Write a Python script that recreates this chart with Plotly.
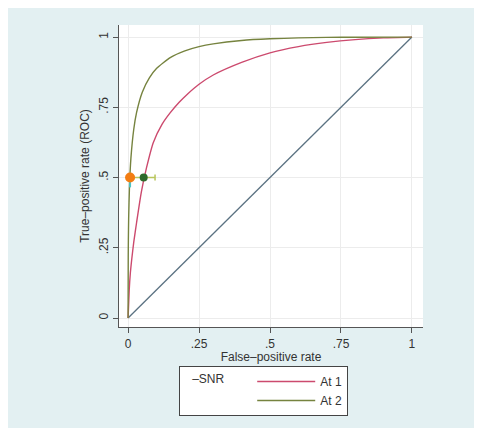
import plotly.graph_objects as go

# ROC curve At 1 (red)
fpr_at1 = [0, 0.004, 0.008, 0.013, 0.02, 0.03, 0.047, 0.065, 0.089, 0.12, 0.148, 0.18, 0.207,
           0.25, 0.3, 0.4, 0.5, 0.6, 0.7, 0.8, 0.9, 1]
tpr_at1 = [0, 0.10, 0.16, 0.21, 0.27, 0.34, 0.45, 0.535, 0.625, 0.69, 0.73, 0.768, 0.795,
           0.832, 0.865, 0.91, 0.944, 0.966, 0.981, 0.991, 0.997, 1]
# ROC curve At 2 (olive)
fpr_at2 = [0, 0.0005, 0.001, 0.002, 0.005, 0.01, 0.02, 0.03, 0.05, 0.075, 0.1, 0.15, 0.2,
           0.25, 0.3, 0.4, 0.5, 0.6, 0.7, 0.8, 1]
tpr_at2 = [0, 0.215, 0.278, 0.353, 0.47, 0.569, 0.672, 0.732, 0.804, 0.855, 0.888, 0.928, 0.951,
           0.966, 0.976, 0.988, 0.9938, 0.997, 0.9988, 0.9996, 1]
# chance line
diag_x = [0, 1]
diag_y = [0, 1]
# operating points
pt_orange = (0.007, 0.5)
pt_green = (0.055, 0.5)
green_err = 0.04
orange_err_down = 0.035

tick_vals = [0, 0.25, 0.5, 0.75, 1]
tick_text = ["0", ".25", ".5", ".75", "1"]

BG = "#e3f0f2"
AX = "#555555"
FONT = "Liberation Sans, Arial, sans-serif"
NB = "\u00a0"

fig = go.Figure()
fig.add_trace(go.Scatter(x=diag_x, y=diag_y, mode="lines",
                         line=dict(color="#5b7282", width=1.3), showlegend=False))
fig.add_trace(go.Scatter(x=fpr_at1, y=tpr_at1, mode="lines", name="At 1",
                         line=dict(color="#cc4a6e", width=1.4, shape="spline", smoothing=0.6)))
fig.add_trace(go.Scatter(x=fpr_at2, y=tpr_at2, mode="lines", name="At 2",
                         line=dict(color="#76833f", width=1.4, shape="spline", smoothing=0.6)))
fig.add_trace(go.Scatter(x=[pt_green[0]], y=[pt_green[1]], mode="markers", showlegend=False,
                         marker=dict(color="#2f6a2c", size=8),
                         error_x=dict(type="data", array=[green_err], color="#b9c65c",
                                      thickness=1.5, width=3)))
fig.add_trace(go.Scatter(x=[pt_orange[0]], y=[pt_orange[1]], mode="markers", showlegend=False,
                         marker=dict(color="#f37d12", size=10),
                         error_y=dict(type="data", symmetric=False, array=[0],
                                      arrayminus=[orange_err_down], color="#4cc4c4",
                                      thickness=2, width=0)))

fig.update_layout(
    width=474, height=420,
    margin=dict(l=111, r=59, t=17, b=101, autoexpand=False),
    paper_bgcolor=BG, plot_bgcolor="white",
    font=dict(family=FONT, size=12, color="#333333"),
    xaxis=dict(range=[-0.032, 1.039], tickvals=tick_vals, ticktext=tick_text,
               showgrid=True, gridcolor="#ececec", gridwidth=1, zeroline=False,
               showline=True, linecolor=AX, linewidth=1.2,
               ticks="outside", ticklen=5, tickcolor=AX,
               tickfont=dict(size=12, color="#333333"),
               title=dict(text="False\u2013positive rate", font=dict(size=12), standoff=2)),
    yaxis=dict(range=[-0.032, 1.043], tickvals=tick_vals, ticktext=tick_text,
               showgrid=True, gridcolor="#ececec", gridwidth=1, zeroline=False,
               showline=True, linecolor=AX, linewidth=1.2,
               ticks="outside", ticklen=5, tickcolor=AX, tickangle=-90,
               tickfont=dict(size=12, color="#333333"),
               title=dict(text="True\u2013positive rate (ROC)", font=dict(size=12), standoff=4)),
    legend=dict(x=0.198, y=-0.129, xanchor="left", yanchor="top",
                bgcolor="white", bordercolor="#444444", borderwidth=1,
                itemwidth=58, tracegroupgap=0,
                title=dict(text=NB * 3 + "\u2013SNR" + NB * 6, side="left", font=dict(size=12)),
                font=dict(size=12, color="#333333")),
)

fig.write_html("out.html")
